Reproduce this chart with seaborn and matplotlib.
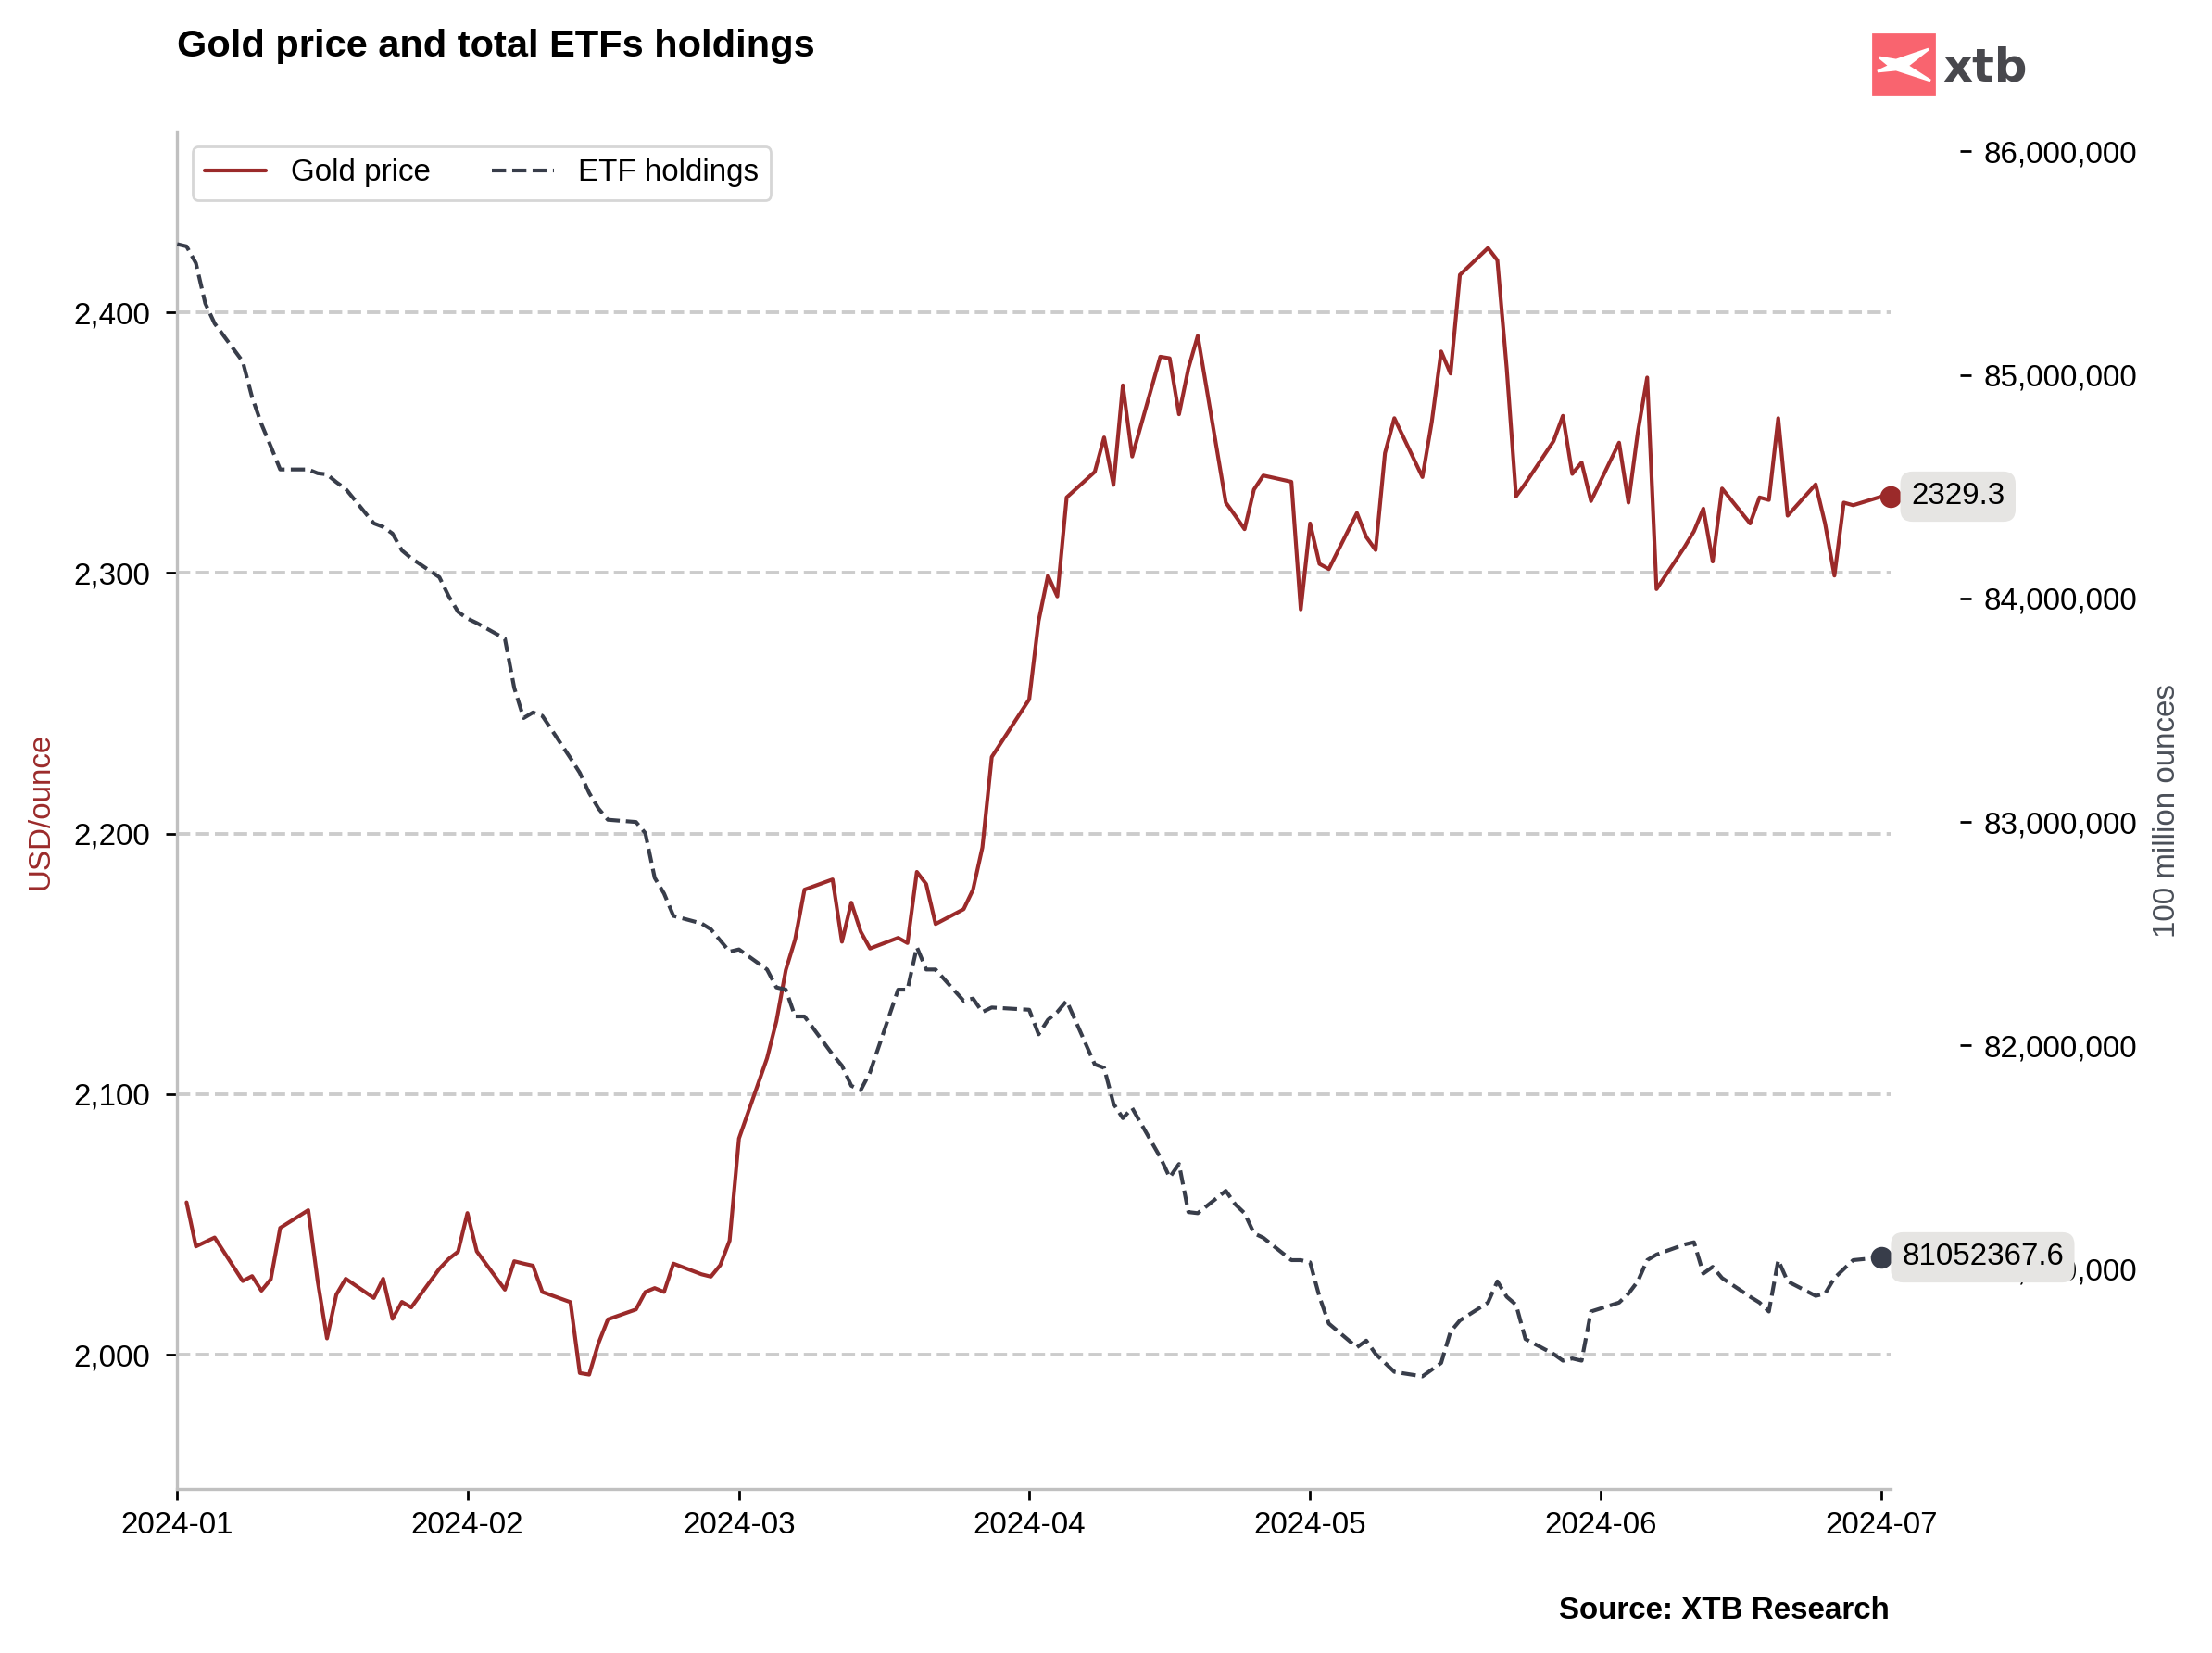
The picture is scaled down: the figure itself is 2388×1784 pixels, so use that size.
import numpy as np
import pandas as pd
import matplotlib
matplotlib.use("Agg")
import matplotlib.pyplot as plt
import matplotlib.dates as mdates
from matplotlib.ticker import FuncFormatter
from matplotlib.patches import Rectangle, Polygon
import seaborn as sns

# trading days (Good Friday missing in both series)
gold_dates = pd.bdate_range("2024-01-02", "2024-07-01").drop(pd.Timestamp("2024-03-29"))
etf_dates = pd.bdate_range("2024-01-01", "2024-07-01").drop(pd.Timestamp("2024-03-29"))

# gold price, USD/ounce
gold_price = [
    # Jan
    2058.5, 2041.6, 2043.3, 2045.0, 2028.3, 2030.2, 2024.6, 2029.0, 2048.7, 2055.5,
    2028.4, 2006.3, 2023.1, 2029.2, 2021.8, 2029.2, 2013.8, 2020.3, 2018.2, 2033.0,
    2036.8, 2039.6,
    # Feb
    2054.4, 2039.7, 2025.0, 2035.9, 2035.0, 2034.2, 2024.1, 2020.2, 1993.0, 1992.4,
    2004.5, 2013.6, 2017.4, 2024.1, 2025.6, 2024.1, 2035.0, 2030.9, 2030.0, 2034.4,
    2043.8,
    # Mar
    2083.0, 2113.8, 2128.0, 2147.6, 2159.4, 2178.5, 2182.4, 2158.5, 2173.5, 2162.4,
    2155.9, 2160.0, 2158.0, 2185.3, 2180.6, 2165.3, 2171.0, 2178.5, 2194.7, 2229.4,
    # Apr
    2251.5, 2281.5, 2299.0, 2291.0, 2329.0, 2338.8, 2352.0, 2333.8, 2372.0, 2344.7,
    2383.0, 2382.4, 2360.9, 2378.5, 2391.0, 2327.0, 2322.0, 2316.8, 2332.0, 2337.4,
    2335.0, 2286.0,
    # May
    2319.0, 2303.5, 2301.5, 2323.0, 2313.8, 2308.8, 2346.0, 2359.4, 2336.8, 2358.0,
    2385.0, 2376.5, 2414.4, 2424.7, 2420.0, 2378.5, 2329.4, 2334.4, 2350.6, 2360.3,
    2338.0, 2342.4, 2327.6,
    # Jun
    2350.0, 2327.0, 2354.0, 2375.0, 2293.8, 2310.0, 2316.0, 2324.7, 2304.4, 2332.4,
    2319.0, 2329.0, 2328.0, 2359.4, 2322.0, 2334.0, 2319.0, 2299.0, 2327.0, 2326.0,
    # Jul
    2329.3,
]

# total ETF holdings, million ounces
etf_holdings_m = [
    # Jan
    85.585, 85.575, 85.50, 85.32, 85.23, 85.06, 84.90, 84.78, 84.68, 84.577,
    84.577, 84.56, 84.555, 84.52, 84.49, 84.336, 84.32, 84.29, 84.215, 84.18,
    84.095, 84.01, 83.94,
    # Feb
    83.91, 83.89, 83.82, 83.60, 83.465, 83.49, 83.475, 83.286, 83.22, 83.13,
    83.06, 83.01, 83.00, 82.95, 82.75, 82.68, 82.58, 82.546, 82.52, 82.47,
    82.42,
    # Mar
    82.43, 82.34, 82.26, 82.25, 82.13, 82.13, 81.96, 81.91, 81.82, 81.80,
    81.88, 82.25, 82.25, 82.44, 82.34, 82.34, 82.20, 82.21, 82.15, 82.17,
    # Apr
    82.16, 82.05, 82.115, 82.15, 82.20, 81.916, 81.90, 81.74, 81.675, 81.72,
    81.50, 81.41, 81.47, 81.255, 81.25, 81.35, 81.29, 81.25, 81.16, 81.14,
    81.04, 81.04,
    # May
    81.03, 80.876, 80.756, 80.65, 80.68, 80.62, 80.58, 80.54, 80.52, 80.55,
    80.58, 80.72, 80.77, 80.85, 80.945, 80.876, 80.84, 80.687, 80.62, 80.59,
    80.60, 80.59, 80.81,
    # Jun
    80.85, 80.89, 80.945, 81.04, 81.065, 81.11, 81.12, 80.98, 81.01, 80.96,
    80.876, 80.85, 80.81, 81.04, 80.945, 80.88, 80.89, 80.96, 81.00, 81.04,
    # Jul
    81.0523676,
]

gold_ticks = [2000, 2100, 2200, 2300, 2400]
etf_ticks = [81e6, 82e6, 83e6, 84e6, 85e6, 86e6]

gold_col = "#9b2a2a"
etf_col = "#383d4a"

df_gold = pd.DataFrame({"date": gold_dates, "price": gold_price})
df_etf = pd.DataFrame({"date": etf_dates, "holdings": np.array(etf_holdings_m) * 1e6})

sns.set_style("ticks")
plt.rcParams["font.family"] = ["Liberation Sans", "DejaVu Sans"]
plt.rcParams["text.color"] = "black"
plt.rcParams["axes.labelcolor"] = "black"
plt.rcParams["xtick.color"] = "black"
plt.rcParams["ytick.color"] = "black"

W, H = 2388, 1784
fig = plt.figure(figsize=(W / 199, H / 199), dpi=199)
ax = fig.add_axes([0.0801, 0.0992, 0.7746, 0.8214])
ax2 = ax.twinx()

sns.lineplot(data=df_gold, x="date", y="price", ax=ax, color=gold_col,
             linewidth=1.5, label="Gold price")
sns.lineplot(data=df_etf, x="date", y="holdings", ax=ax2, color=etf_col,
             linewidth=1.5, linestyle="--", label="ETF holdings")

# axes limits and ticks
ax.set_xlim(pd.Timestamp("2024-01-01"), pd.Timestamp("2024-07-02"))
ax.set_ylim(1948.5, 2469.5)
ax2.set_ylim(80.016e6, 86.09e6)
ax.set_yticks(gold_ticks)
ax2.set_yticks(etf_ticks)
ax.yaxis.set_major_formatter(FuncFormatter(lambda v, p: f"{v:,.0f}"))
ax2.yaxis.set_major_formatter(FuncFormatter(lambda v, p: f"{v:,.0f}"))
ax.xaxis.set_major_locator(mdates.MonthLocator())
ax.xaxis.set_major_formatter(mdates.DateFormatter("%Y-%m"))
ax.set_xlabel("")
ax.set_ylabel("")
ax2.set_ylabel("")

ax.yaxis.grid(True, color="#cccccc", linestyle="--", linewidth=1.4)
ax.set_axisbelow(True)

for s in ["top", "right"]:
    ax.spines[s].set_visible(False)
for s in ["left", "bottom"]:
    ax.spines[s].set_color("#c0c0c0")
    ax.spines[s].set_linewidth(1.2)
for s in ax2.spines.values():
    s.set_visible(False)
ax2.spines["right"].set_position(("outward", 27))

ax.tick_params(axis="both", length=4.5, width=1, color="black", labelsize=12, labelcolor="black")
ax.tick_params(axis="y", pad=6)
ax.tick_params(axis="x", pad=4)
ax2.tick_params(axis="y", length=4.5, width=1, color="black", labelsize=12, pad=5,
                labelcolor="black")

# legend with both series
h1, l1 = ax.get_legend_handles_labels()
h2, l2 = ax2.get_legend_handles_labels()
if ax.get_legend():
    ax.get_legend().remove()
leg = ax2.legend(h1 + h2, l1 + l2, loc="upper left", ncol=2, fontsize=12,
                 edgecolor="#cccccc", frameon=True)
for t in leg.get_texts():
    t.set_color("black")

# end markers and value labels
gold_end_x = gold_dates[-1] + pd.Timedelta(days=1)
ax.plot([gold_end_x], [gold_price[-1]], "o", ms=7.5, color=gold_col, clip_on=False, zorder=5)
ax.annotate(f"{gold_price[-1]:.1f}", xy=(gold_end_x, gold_price[-1]), xytext=(8, 0),
            textcoords="offset points", ha="left", va="center", fontsize=12, color="black",
            bbox=dict(boxstyle="round,pad=0.35,rounding_size=0.4", fc="#e6e5e3", ec="none"),
            annotation_clip=False, zorder=10)
etf_last = df_etf["holdings"].iloc[-1]
ax2.plot([etf_dates[-1]], [etf_last], "o", ms=7.5, color=etf_col, clip_on=False, zorder=5)
ax2.annotate(f"{etf_last:.1f}", xy=(etf_dates[-1], etf_last), xytext=(8, 0),
             textcoords="offset points", ha="left", va="center", fontsize=12, color="black",
             bbox=dict(boxstyle="round,pad=0.35,rounding_size=0.4", fc="#e6e5e3", ec="none"),
             annotation_clip=False, zorder=10)

# axis titles
fig.text(44 / W, 1 - 875 / H, "USD/ounce", rotation=90, ha="center", va="center",
         fontsize=12, color=gold_col)
fig.text(2340 / W, 1 - 875 / H, "100 million ounces", rotation=90, ha="center", va="center",
         fontsize=12, color="#4a4f58")

# title and source
fig.text(191 / W, 1 - 61 / H, "Gold price and total ETFs holdings", ha="left", va="baseline",
         fontsize=15, fontweight="bold", color="black")
fig.text(2040 / W, 1 - 1747 / H, "Source: XTB Research", ha="right", va="baseline",
         fontsize=12, fontweight="bold", color="black")

# xtb logo
fig.patches.append(Rectangle((2022 / W, 1 - 102 / H), 66 / W, 65 / H,
                             transform=fig.transFigure, color="#f9646f", zorder=5))
x_pts = [(2029, 62), (2047, 65), (2082, 53), (2059, 71), (2084, 87), (2047, 75), (2027, 77), (2040, 71)]
fig.patches.append(Polygon([(x / W, 1 - y / H) for x, y in x_pts], closed=True,
                           transform=fig.transFigure, color="white", zorder=6))
fig.text(2097 / W, 1 - 88 / H, "xtb", ha="left", va="baseline", fontsize=18,
         fontweight="bold", family="DejaVu Sans", color="#48484d")

fig.savefig("out.png", dpi=199, facecolor="white")
